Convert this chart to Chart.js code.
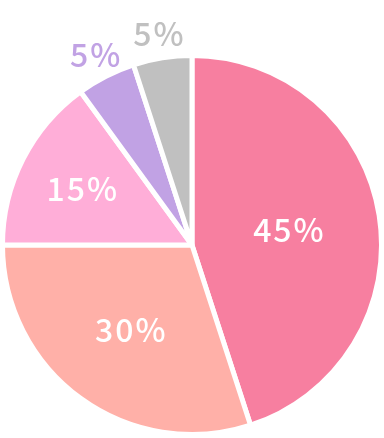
<!DOCTYPE html>
<html>
<head>
<meta charset="utf-8">
<script src="https://cdn.jsdelivr.net/npm/chart.js@4"></script>
<style>
html,body{margin:0;padding:0;background:#fff;}
#wrap{width:384px;height:438px;position:relative;}
</style>
</head>
<body>
<div id="wrap"><canvas id="c" width="384" height="438"></canvas></div>
<script>
const categories = ["A", "B", "C", "D", "E"];
const values = [45, 30, 15, 5, 5];
const labelTexts = ["45%", "30%", "15%", "5%", "5%"];

const sliceColors = ["#F77FA0", "#FFB0A8", "#FFAED8", "#C1A2E4", "#C0C0C0"];
const labelRadiusFactor = [0.515, 0.555, 0.653, 1.125, 1.13];
const labelColors = ["#FFFFFF", "#FFFFFF", "#FFFFFF", "#C1A2E4", "#C0C0C0"];

const labelPlugin = {
  id: 'sliceLabels',
  afterDatasetsDraw(chart) {
    const ctx = chart.ctx;
    const meta = chart.getDatasetMeta(0);
    ctx.save();
    ctx.font = '500 32px "Noto Sans CJK JP", "Noto Sans", sans-serif';
    if ('letterSpacing' in ctx) ctx.letterSpacing = '2px';
    ctx.textAlign = 'center';
    ctx.textBaseline = 'middle';
    meta.data.forEach((arc, i) => {
      const p = arc.getProps(['x','y','startAngle','endAngle','outerRadius'], true);
      const mid = (p.startAngle + p.endAngle) / 2;
      const r = p.outerRadius * labelRadiusFactor[i];
      const x = p.x + Math.cos(mid) * r;
      const y = p.y + Math.sin(mid) * r;
      ctx.fillStyle = labelColors[i];
      ctx.fillText(labelTexts[i], x + 1, y);
    });
    ctx.restore();
  }
};

new Chart(document.getElementById('c'), {
  type: 'pie',
  data: {
    labels: categories,
    datasets: [{
      data: values,
      backgroundColor: sliceColors,
      borderColor: '#FFFFFF',
      borderWidth: 5
    }]
  },
  options: {
    responsive: false,
    animation: false,
    layout: { padding: { top: 53, bottom: 1, left: 0, right: 0 } },
    plugins: { legend: { display: false }, tooltip: { enabled: false } }
  },
  plugins: [labelPlugin]
});
</script>
</body>
</html>
